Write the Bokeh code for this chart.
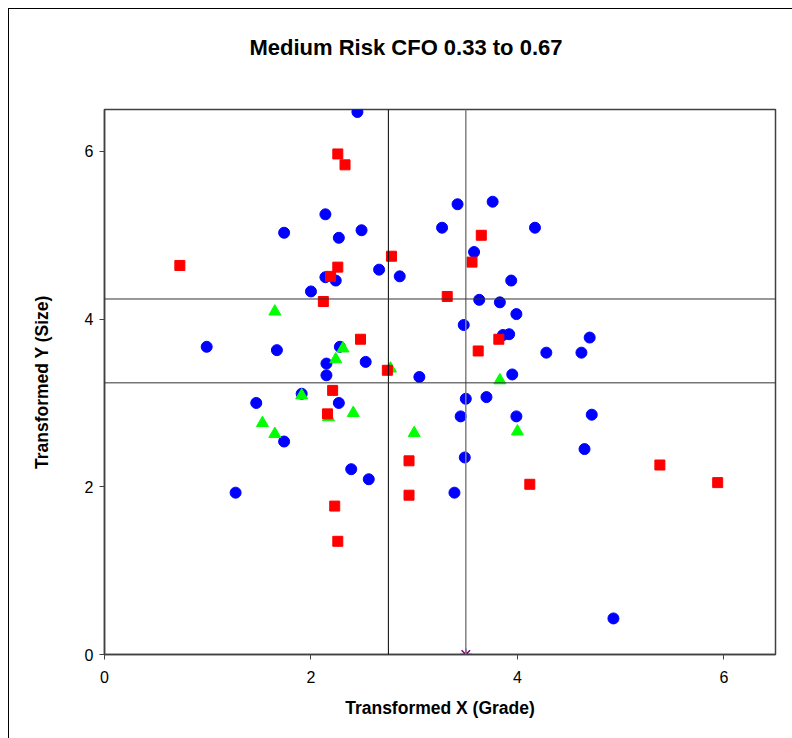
from bokeh.plotting import figure
from bokeh.models import Range1d, Span, FixedTicker, LinearAxis
from bokeh.embed import file_html
from bokeh.resources import INLINE

# ---- data ----
blue_x = [2.45, 2.14, 1.74, 2.27, 2.49, 3.42, 3.76, 3.27, 4.17, 3.58, 2.66, 2.86, 2.14, 2.24,
          3.94, 2.00, 3.63, 3.83, 3.99, 3.48, 0.99, 1.67, 2.28, 2.15, 2.15, 2.53, 3.86, 3.92,
          4.28, 4.70, 4.62, 3.05, 3.95, 1.91, 1.47, 2.27, 3.50, 3.70, 3.45, 3.99, 4.72, 1.74,
          4.65, 3.49, 2.39, 2.56, 1.27, 3.39, 4.93]
blue_y = [6.47, 5.25, 5.03, 4.97, 5.06, 5.37, 5.40, 5.09, 5.09, 4.80, 4.59, 4.51, 4.50, 4.46,
          4.46, 4.33, 4.23, 4.20, 4.06, 3.93, 3.67, 3.63, 3.67, 3.47, 3.33, 3.49, 3.81, 3.82,
          3.60, 3.78, 3.60, 3.31, 3.34, 3.11, 3.00, 3.00, 3.05, 3.07, 2.84, 2.84, 2.86, 2.54,
          2.45, 2.35, 2.21, 2.09, 1.93, 1.93, 0.43]

red_x = [2.26, 2.33, 0.73, 2.26, 2.19, 2.12, 3.65, 2.78, 3.56, 3.32, 2.48, 3.82, 3.62, 2.74,
         2.21, 2.16, 2.95, 2.95, 4.12, 2.23, 2.26, 5.38, 5.94]
red_y = [5.97, 5.84, 4.64, 4.62, 4.51, 4.21, 5.00, 4.75, 4.68, 4.27, 3.76, 3.76, 3.62, 3.39,
         3.15, 2.87, 2.31, 1.90, 2.03, 1.77, 1.35, 2.26, 2.05]

green_x = [1.65, 2.31, 2.24, 2.77, 3.83, 1.91, 2.17, 2.41, 1.53, 1.65, 3.00, 4.00]
green_y = [4.09, 3.65, 3.52, 3.41, 3.27, 3.09, 2.83, 2.88, 2.76, 2.63, 2.64, 2.66]

center_x = [3.5]
center_y = [0.0]

ref_x = [2.75, 3.5]
ref_y = [3.24, 4.24]

x_ticks = [0, 2, 4, 6]
y_ticks = [0, 2, 4, 6]

title_text = "Medium Risk CFO 0.33 to 0.67"
x_label = "Transformed X (Grade)"
y_label = "Transformed Y (Size)"

FONT = "Liberation Sans"

p = figure(width=784, height=730, output_backend="svg", toolbar_location=None,
           x_range=Range1d(0, 6.5), y_range=Range1d(0, 6.5),
           min_border_left=95, min_border_right=18, min_border_top=100, min_border_bottom=85)
p.margin = (8, 0, 0, 8)
p.styles = {"border-left": "1px solid black", "border-top": "1px solid black"}

p.title.text = title_text
p.title.text_font = FONT
p.title.text_font_size = "22px"
p.title.text_font_style = "bold"
p.title.text_color = "black"
p.title.align = "left"
p.title.offset = 145
p.title.vertical_align = "bottom"
p.title.standoff = 0

p.xgrid.visible = False
p.ygrid.visible = False
p.background_fill_color = "white"
p.border_fill_color = "white"
p.outline_line_color = "#404040"
p.outline_line_width = 1.5

xa = p.below[0]
ya = p.left[0]
for ax in (xa, ya):
    ax.axis_line_color = "#404040"
    ax.axis_line_width = 1.5
    ax.major_tick_line_color = "#404040"
    ax.major_tick_out = 5
    ax.major_tick_in = 0
    ax.minor_tick_line_color = None
    ax.major_label_text_font = FONT
    ax.major_label_text_font_size = "16px"
    ax.major_label_text_color = "black"
    ax.axis_label_text_font = FONT
    ax.axis_label_text_font_size = "17.5px"
    ax.axis_label_text_font_style = "bold"
    ax.axis_label_text_color = "black"

xa.ticker = FixedTicker(ticks=x_ticks)
ya.ticker = FixedTicker(ticks=y_ticks)
xa.axis_label = x_label
ya.axis_label = y_label
xa.major_label_standoff = 11
xa.axis_label_standoff = 12
ya.major_label_standoff = 6
ya.axis_label_standoff = 30

# invisible spacer between title and plot area (one hidden tick, empty label)
spacer = LinearAxis(ticker=FixedTicker(ticks=[3]), major_tick_out=50, major_tick_in=0,
                    axis_line_color=None, major_tick_line_color=None,
                    minor_tick_line_color=None, major_label_standoff=0,
                    major_label_overrides={3: ""}, major_label_text_font_size="0px")
p.add_layout(spacer, "above")

# reference lines
p.add_layout(Span(location=ref_x[0], dimension="height", line_color="black", line_width=1))
p.add_layout(Span(location=ref_x[1], dimension="height", line_color="#808080", line_width=1.5))
for yv in ref_y:
    p.add_layout(Span(location=yv, dimension="width", line_color="#333333", line_width=1))

p.scatter(blue_x, blue_y, marker="circle", size=11, fill_color="#0000FF", line_color="#0000FF")
p.scatter(green_x, green_y, marker="triangle", size=12, fill_color="#00FF00", line_color="#00FF00")
p.scatter(red_x, red_y, marker="square", size=10, fill_color="#FF0000", line_color="#FF0000")
p.scatter(center_x, center_y, marker="asterisk", size=12, line_color="#800080", line_width=1.5)

open("out.html", "w").write(file_html(p, INLINE))
